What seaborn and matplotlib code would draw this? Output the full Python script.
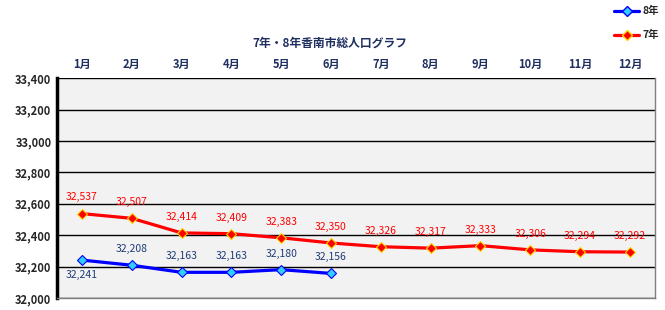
import pandas as pd
import seaborn as sns
import matplotlib.pyplot as plt
from matplotlib.ticker import FuncFormatter
from matplotlib.lines import Line2D

months = ['1月', '2月', '3月', '4月', '5月', '6月', '7月', '8月', '9月', '10月', '11月', '12月']
pop_h8 = [32241, 32208, 32163, 32163, 32180, 32156]
pop_h7 = [32537, 32507, 32414, 32409, 32383, 32350, 32326, 32317, 32333, 32306, 32294, 32292]

df = pd.concat([
    pd.DataFrame({'month': range(len(pop_h8)), 'pop': pop_h8, 'year': '8年'}),
    pd.DataFrame({'month': range(len(pop_h7)), 'pop': pop_h7, 'year': '7年'}),
])

sns.set_style('white')
plt.rcParams['font.family'] = ['Noto Sans CJK JP', 'DejaVu Sans']

fig = plt.figure(figsize=(6.65, 3.10), dpi=100)
ax = fig.add_axes([0.0857, 0.039, 0.899, 0.709])
ax.set_facecolor('#F2F2F2')

sns.lineplot(data=df, x='month', y='pop', hue='year', hue_order=['8年', '7年'],
             palette={'8年': '#0000FF', '7年': '#FF0000'}, lw=2.3, ax=ax, legend=False)
ax.plot(range(len(pop_h8)), pop_h8, ls='none', marker='D', ms=5.5,
        mfc='#33CCFF', mec='#0000FF', mew=0.8)
ax.plot(range(len(pop_h7)), pop_h7, ls='none', marker='D', ms=5.5,
        mfc='#FF0000', mec='#FFD700', mew=0.8)

# data labels
for i, v in enumerate(pop_h7):
    ax.annotate(f'{v:,}', (i, v), xytext=(0, 8), textcoords='offset points',
                ha='center', va='bottom', color='#FF0000', fontsize=7.5)
for i, v in enumerate(pop_h8):
    off = -7 if i == 0 else 8
    ax.annotate(f'{v:,}', (i, v), xytext=(0, off), textcoords='offset points',
                ha='center', va='top' if i == 0 else 'bottom', color='#1F3C78', fontsize=7.5)

ax.set_xlim(-0.5, 11.5)
ax.set_ylim(32000, 33400)
ax.set_yticks(range(32000, 33401, 200))
ax.yaxis.set_major_formatter(FuncFormatter(lambda v, p: f'{int(v):,}'))
ax.yaxis.grid(True, color='black', lw=1)
ax.set_axisbelow(True)
ax.set_xticks(range(12))
ax.set_xticklabels(months, color='#1F2F5F', fontweight='bold', fontsize=8)
ax.xaxis.tick_top()
ax.tick_params(axis='x', length=0, pad=5)
ax.tick_params(axis='y', length=0, labelsize=8, pad=4)
for t in ax.get_yticklabels():
    t.set_fontweight('bold')
ax.set_xlabel('')
ax.set_ylabel('')

for s in ['top', 'right', 'bottom']:
    ax.spines[s].set_color('#808080')
    ax.spines[s].set_linewidth(1)
ax.spines['top'].set_visible(False)
ax.spines['left'].set_color('black')
ax.spines['left'].set_linewidth(2.5)

fig.text(0.496, 0.862, '7年・8年香南市総人口グラフ', ha='center', va='center',
         fontsize=8.5, fontweight='bold', color='#1F2F5F')

handles = [
    Line2D([], [], color='#0000FF', lw=2.3, marker='D', ms=5.5, mfc='#33CCFF', mec='#0000FF'),
    Line2D([], [], color='#FF0000', lw=2.3, marker='D', ms=5.5, mfc='#FF0000', mec='#FFD700'),
]
fig.legend(handles, ['8年', '7年'], loc='upper right', bbox_to_anchor=(1.0, 1.0),
           frameon=False, handlelength=2.4, labelspacing=1.3, handletextpad=0.3,
           prop={'size': 7.5, 'weight': 'bold'}, borderaxespad=0.2)

fig.savefig('out.png', dpi=100)
